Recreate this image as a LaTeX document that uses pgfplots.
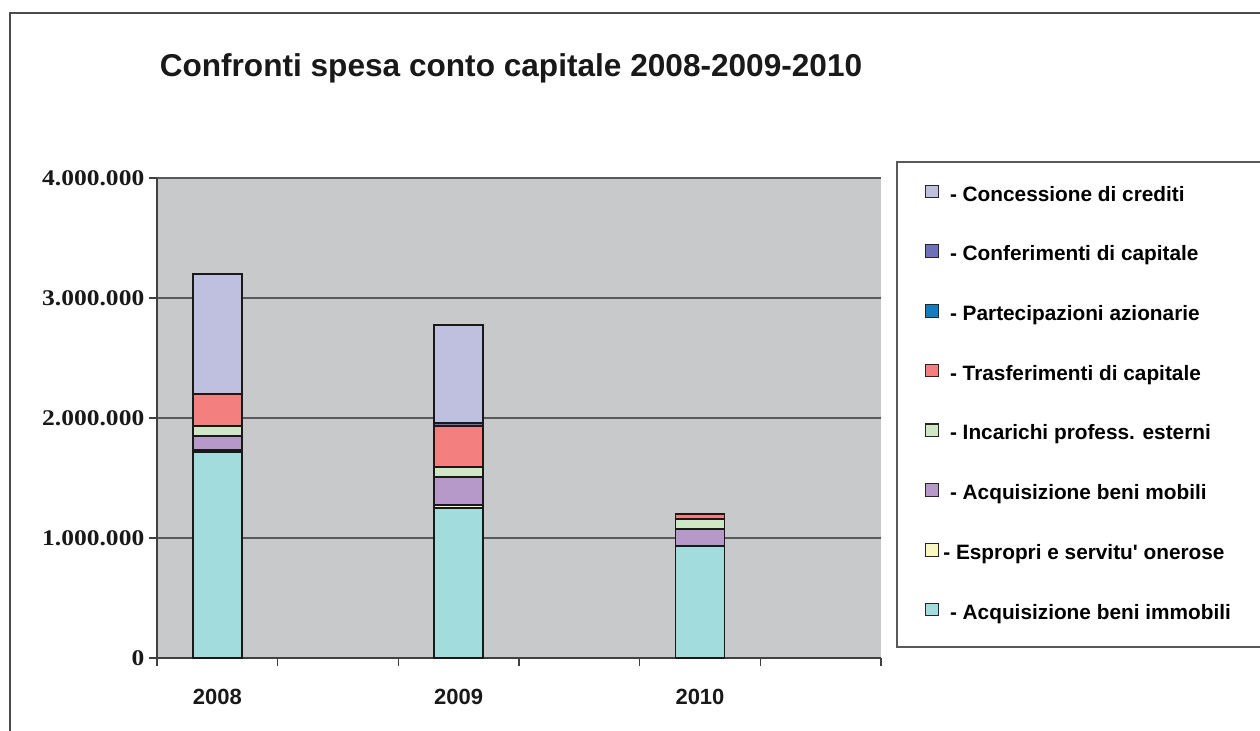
\documentclass[border=0pt]{standalone}
\usepackage{pgfplots}
\pgfplotsset{compat=1.18}
\usepackage{pgfplotstable}
\usepackage{fontspec}
\setmainfont{Liberation Sans}
\newfontfamily\numserif{Liberation Serif}[FakeStretch=1.14]

\definecolor{plotbg}{RGB}{200,201,203}
\definecolor{cImmobili}{RGB}{163,220,220}
\definecolor{cEspropri}{RGB}{250,248,192}
\definecolor{cMobili}{RGB}{183,153,201}
\definecolor{cIncarichi}{RGB}{207,231,196}
\definecolor{cTrasf}{RGB}{244,127,127}
\definecolor{cPartec}{RGB}{20,125,192}
\definecolor{cConfer}{RGB}{112,112,184}
\definecolor{cConcess}{RGB}{191,191,223}

% spesa in conto capitale per anno (euro); x = posizione della colonna
\pgfplotstableread{
x immobili espropri mobili incarichi trasferimenti partecipazioni conferimenti concessione
0 1715000 15000 123000 83000 261000 0 0 1003000
2 1253000 22000 236000 78000 347000 0 20000 819000
4 933000 0 145000 80000 42000 0 0 0
}\spesa

\begin{document}
\begin{tikzpicture}
\begin{scope}[x=0.75pt,y=-0.75pt]
  \useasboundingbox (0,0) rectangle (1260,731);
  % cornice del grafico
  \draw[line width=1pt, black!70] (10,745) -- (10,13) -- (1275,13);
  % titolo
  \node[anchor=base, font=\fontsize{23.7}{28}\selectfont\bfseries, text=black!90]
    at (511,77) {Confronti spesa conto capitale 2008-2009-2010};
  % riquadro della legenda
  \draw[line width=0.8pt, black!65] (897,162) rectangle (1290,647);
\end{scope}
\begin{axis}[
  at={(117.75pt,-493.5pt)}, anchor=south west,
  scale only axis, width=543pt, height=360pt,
  xmin=-0.5, xmax=5.5, ymin=0, ymax=4000000,
  ybar stacked, bar width=0.406,
  axis background/.style={fill=plotbg},
  axis x line*=bottom, axis y line*=left,
  axis line style={black!75, line width=1pt},
  xtick={-0.5,0.5,...,5.5}, xticklabels={},
  extra x ticks={0,2,4}, extra x tick labels={2008,2009,2010},
  extra x tick style={major tick length=0pt, tick label style={yshift=-20pt}},
  ytick={0,1000000,2000000,3000000,4000000},
  yticklabels={0,1.000.000,2.000.000,3.000.000,4.000.000},
  scaled y ticks=false,
  ymajorgrids, grid style={black!65, line width=0.8pt},
  tick align=outside, major tick length=6pt,
  tick style={black!75, line width=0.8pt},
  yticklabel style={font=\numserif\bfseries\fontsize{16.8}{20}\selectfont, text=black!90},
  xticklabel style={font=\bfseries\fontsize{16.5}{20}\selectfont, text=black!90},
  every axis plot/.append style={draw=black!90, line width=1.4pt},
  every axis plot post/.append style={
    legend image code/.code={\draw[##1,draw=black!85,line width=0.8pt] (0pt,-1.5pt) rectangle (9.5pt,8pt);}},
  reverse legend, legend cell align=left,
  legend style={at={(1.0608,0.987)}, anchor=north west, draw=none, fill=none,
    inner sep=0pt, row sep=29.4pt, column sep=4.25pt,
    font=\bfseries\fontsize{15.6}{18}\selectfont,
    nodes={text height=11pt, text depth=3pt, inner ysep=0pt, inner xsep=4pt}},
]
\addplot[fill=cImmobili] table[x=x,y=immobili]{\spesa};
\addplot[fill=cEspropri] table[x=x,y=espropri]{\spesa};
\addplot[fill=cMobili] table[x=x,y=mobili]{\spesa};
\addplot[fill=cIncarichi] table[x=x,y=incarichi]{\spesa};
\addplot[fill=cTrasf] table[x=x,y=trasferimenti]{\spesa};
\addplot[fill=cPartec] table[x=x,y=partecipazioni]{\spesa};
\addplot[fill=cConfer] table[x=x,y=conferimenti]{\spesa};
\addplot[fill=cConcess] table[x=x,y=concessione]{\spesa};
\legend{- Acquisizione beni immobili,
  \hspace*{-5pt}- Espropri e servitu\textquotesingle\ onerose,
  - Acquisizione beni mobili,
  - Incarichi profess. esterni,
  - Trasferimenti di capitale,
  - Partecipazioni azionarie,
  - Conferimenti di capitale,
  - Concessione di crediti}
\end{axis}
\end{tikzpicture}
\end{document}
